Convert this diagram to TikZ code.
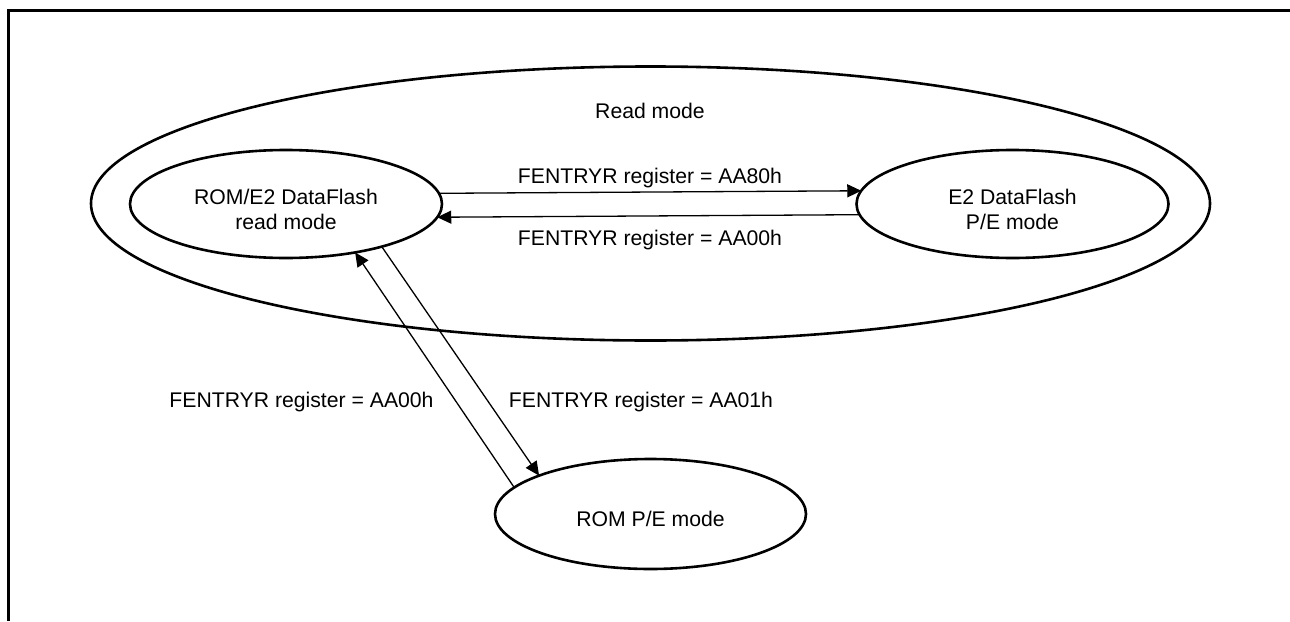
\documentclass[tikz,border=0pt]{standalone}
\usepackage{fontspec}
\setmainfont{Liberation Sans}
\usetikzlibrary{shapes.geometric,arrows.meta}
\tikzset{
  every node/.style={font=\fontsize{21.2}{25}\selectfont},
  state/.style={ellipse,draw,line width=2.6pt,inner sep=0pt,outer sep=0pt,
    minimum width=312pt,minimum height=108pt,align=center},
  trans/.style={line width=1.3pt,-{Triangle[length=14pt,width=13pt]}},
  lbl/.style={anchor=base,inner sep=0pt}
}
\begin{document}
\begin{tikzpicture}[x=1pt,y=-1pt]
\useasboundingbox (0,0) rectangle (1290,621);
% frame
\draw[line width=3pt] (1290,10) -- (8.5,10) -- (8.5,621);
% outer ellipse
\node[ellipse,draw,line width=2.6pt,inner sep=0pt,outer sep=0pt,
  minimum width=1119pt,minimum height=274pt] (readmode) at (650.5,203.5) {};
\node[lbl] (readlbl) at (650,118) {Read mode};
% states
\node[state] (rom) at (286,204) {\rule{0pt}{26pt}ROM/E2 DataFlash\\read mode};
\node[state] (e2) at (1012.5,204) {\rule{0pt}{26pt}E2 DataFlash\\P/E mode};
\node[state,minimum width=311pt,minimum height=110pt] (rompe) at (650.5,514) {\rule{0pt}{26pt}ROM P/E mode};
% transitions
\draw[trans] (rom.4.6) -- (e2.175.4);
\draw[trans] (e2.184.5) -- (rom.355.5);
\draw[trans] (rompe.169.5) -- (rom.325);
\draw[trans] (rom.336) -- (rompe.161);
% labels
\node[lbl] (l1) at (650,183) {FENTRYR register = AA80h};
\node[lbl] (l2) at (650,245) {FENTRYR register = AA00h};
\node[lbl] (l3) at (301.5,407) {FENTRYR register = AA00h};
\node[lbl] (l4) at (641,407) {FENTRYR register = AA01h};
\end{tikzpicture}
\end{document}
